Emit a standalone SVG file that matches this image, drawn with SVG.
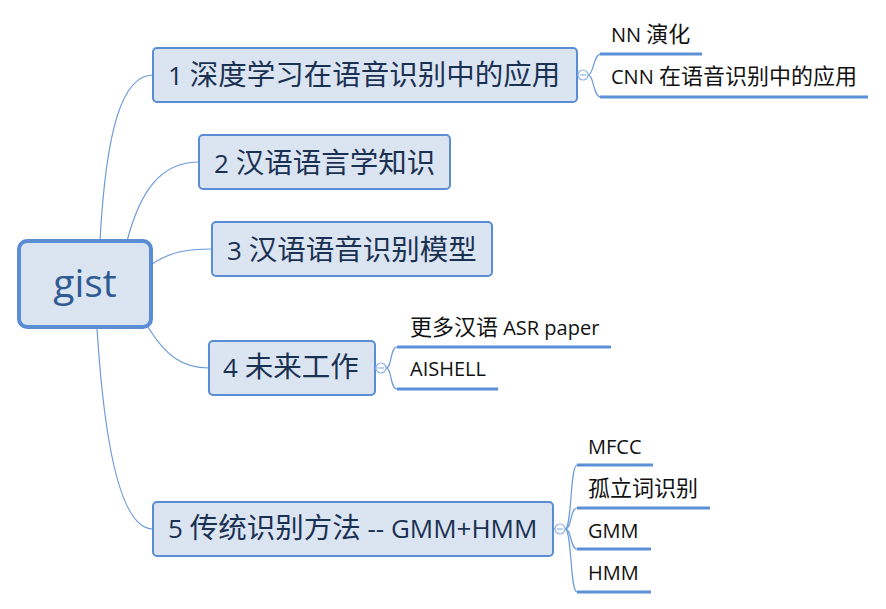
<svg xmlns="http://www.w3.org/2000/svg" width="886" height="609" viewBox="0 0 886 609">
<style>
.bg{fill:#ffffff}
.topic rect{fill:#dbe5f2;stroke:#5b8dd4;stroke-width:2}
.topic text{font-family:"Open Sans","Noto Sans CJK SC",sans-serif;font-size:26px;fill:#1b3152}
.cjk{font-family:"Noto Sans CJK SC",sans-serif;font-size:28.5px}
.root rect{fill:#dbe5f2;stroke:#5b8dd4;stroke-width:4}
.root text{font-family:"Open Sans",sans-serif;font-size:39px;fill:#2f5b92}
.sub text{font-family:"Open Sans","Noto Sans CJK SC",sans-serif;font-size:20px;fill:#111111}
.sc{font-family:"Noto Sans CJK SC",sans-serif;font-size:22px}
.sub line{stroke:#5b8fd6;stroke-width:3}
.conn path,.conn line{fill:none;stroke:#6b9ada;stroke-width:1.2}
.tog circle{fill:#ffffff;stroke:#8fb2e3;stroke-width:1.2}
.tog line{stroke:#8fb2e3;stroke-width:1.2}
</style>
<rect class="bg" x="0" y="0" width="886" height="609"/>

<g id="connectors" class="conn">
<path d="M100,241 C106,130 122,75 153,75"/>
<path d="M127,241 C140,192 160,162 199,162"/>
<path d="M152,264 C170,252 186,249 212,249"/>
<path d="M148,327 C165,355 182,368 209,368"/>
<path d="M97,328 C104,440 120,529 153,529"/>
<line x1="577" y1="75" x2="578" y2="75"/>
<path d="M588,75 C594,75 593,54 601,54"/>
<path d="M588,75 C594,75 593,97 601,97"/>
<line x1="375" y1="368" x2="377" y2="368"/>
<path d="M386,368 C392,368 390,347 397,347"/>
<path d="M386,368 C392,368 390,389 397,389"/>
<line x1="553" y1="529" x2="555" y2="529"/>
<path d="M565,529 C572,529 570,465 577,465"/>
<path d="M565,529 C572,529 570,508 577,508"/>
<path d="M565,529 C572,529 570,549 577,549"/>
<path d="M565,529 C572,529 570,592 577,592"/>
</g>

<g id="root" class="root">
<rect x="19" y="241" width="132" height="86" rx="8"/>
<text x="85" y="297" text-anchor="middle">gist</text>
</g>

<g id="topic1" class="topic">
<rect x="153" y="48" width="424" height="54" rx="4"/>
<text x="168" y="85">1 <tspan class="cjk">深度学习在语音识别中的应用</tspan></text>
</g>
<g id="topic2" class="topic">
<rect x="199" y="135" width="251" height="54" rx="4"/>
<text x="214" y="173">2 <tspan class="cjk">汉语语言学知识</tspan></text>
</g>
<g id="topic3" class="topic">
<rect x="212" y="222" width="280" height="54" rx="4"/>
<text x="227" y="260">3 <tspan class="cjk">汉语语音识别模型</tspan></text>
</g>
<g id="topic4" class="topic">
<rect x="209" y="341" width="166" height="54" rx="4"/>
<text x="223" y="377">4 <tspan class="cjk">未来工作</tspan></text>
</g>
<g id="topic5" class="topic">
<rect x="153" y="502" width="400" height="54" rx="4"/>
<text x="168" y="538">5 <tspan class="cjk">传统识别方法</tspan> -- GMM+HMM</text>
</g>

<g id="toggles" class="tog">
<circle cx="583" cy="75" r="5"/><line x1="580" y1="75" x2="586" y2="75"/>
<circle cx="381" cy="368" r="5"/><line x1="378" y1="368" x2="384" y2="368"/>
<circle cx="560" cy="529" r="5"/><line x1="557" y1="529" x2="563" y2="529"/>
</g>

<g id="sub1a" class="sub">
<text x="611" y="42">NN <tspan class="sc">演化</tspan></text>
<line x1="600" y1="54" x2="702" y2="54"/>
</g>
<g id="sub1b" class="sub">
<text x="611" y="84">CNN <tspan class="sc">在语音识别中的应用</tspan></text>
<line x1="600" y1="97" x2="868" y2="97"/>
</g>
<g id="sub4a" class="sub">
<text x="410" y="335"><tspan class="sc">更多汉语</tspan> ASR paper</text>
<line x1="397" y1="347" x2="611" y2="347"/>
</g>
<g id="sub4b" class="sub">
<text x="410" y="376">AISHELL</text>
<line x1="397" y1="389" x2="498" y2="389"/>
</g>
<g id="sub5a" class="sub">
<text x="588" y="454">MFCC</text>
<line x1="577" y1="465" x2="653" y2="465"/>
</g>
<g id="sub5b" class="sub">
<text x="588" y="496"><tspan class="sc">孤立词识别</tspan></text>
<line x1="577" y1="508" x2="710" y2="508"/>
</g>
<g id="sub5c" class="sub">
<text x="588" y="538">GMM</text>
<line x1="577" y1="549" x2="651" y2="549"/>
</g>
<g id="sub5d" class="sub">
<text x="588" y="580">HMM</text>
<line x1="577" y1="592" x2="651" y2="592"/>
</g>
</svg>
